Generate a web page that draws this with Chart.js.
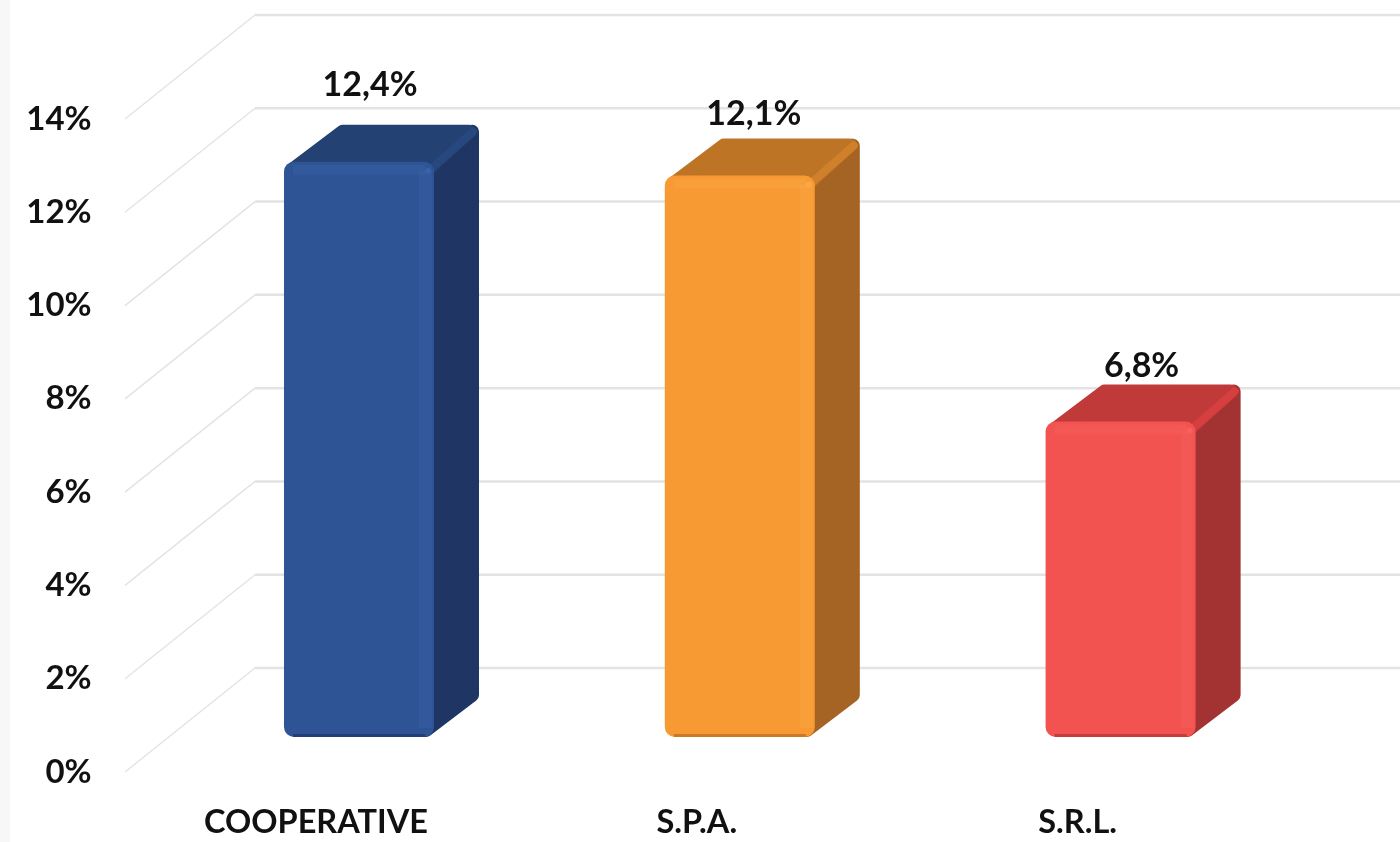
<!DOCTYPE html>
<html>
<head>
<meta charset="utf-8">
<title>Chart</title>
<script src="https://cdn.jsdelivr.net/npm/chart.js@4/dist/chart.umd.js"></script>
<style>
  html, body { margin: 0; padding: 0; background: #fff; }
  body { width: 1400px; height: 842px; overflow: hidden; background: linear-gradient(90deg, #f7f7f7 10px, #fff 10px); }
  canvas { display: block; }
</style>
</head>
<body>
<canvas id="chart" width="1400" height="842"></canvas>
<script>
const categories = ['COOPERATIVE', 'S.P.A.', 'S.R.L.'];
const values = [12.4, 12.1, 6.8];
const axisTicks = [0, 2, 4, 6, 8, 10, 12, 14];

const frontColors = ['#2e5496', '#f79a34', '#f25350'];
const topColors = ['#234172', '#bd7425', '#bf3a39'];
const sideColors = ['#1f3564', '#a56424', '#a33332'];
const rimColors = ['#27477f', '#d0802a', '#d63e40'];
const edgeColors = ['#3a63a8', '#fdaa45', '#f7625f'];
const lowColors = ['#1f3f78', '#c97a22', '#c53c3a'];

const textColor = '#111';
const fontName = 'Lato, Carlito, sans-serif';

// depth of the fake 3d room and of the bars
const wallX = 130, wallY = -104;
const depthX = 45, depthY = -37;
// where each value label sits, measured from the top of its bar
const labelShiftX = [11, 14, 21];
const labelShiftY = [-77, -62, -55];

const room3d = {
    id: 'room3d',
    beforeDatasetsDraw(chart) {
        const c = chart.ctx;
        const y = chart.scales.y;
        c.save();
        y.ticks.forEach(t => {
            const py = y.getPixelForValue(t.value);
            c.strokeStyle = '#e3e3e3';
            c.lineWidth = 1.5;
            c.beginPath();
            c.moveTo(125, py);
            c.lineTo(125 + wallX, py + wallY);
            c.stroke();
            c.lineWidth = 2.5;
            c.beginPath();
            c.moveTo(125 + wallX, py + wallY);
            c.lineTo(1400, py + wallY);
            c.stroke();
        });
        c.restore();

        // top and side of each bar, behind the front face
        chart.getDatasetMeta(0).data.forEach((bar, i) => {
            const l = bar.x - bar.width / 2, r = bar.x + bar.width / 2;
            const t = bar.y, b = bar.base;
            c.save();
            c.lineJoin = 'round';
            c.lineWidth = 14;

            c.fillStyle = c.strokeStyle = sideColors[i];
            c.beginPath();
            c.moveTo(r - 8, t + 8);
            c.lineTo(r + depthX - 7, t + depthY + 7);
            c.lineTo(r + depthX - 7, b + depthY - 5);
            c.lineTo(r - 8, b - 7);
            c.closePath();
            c.fill();
            c.stroke();

            c.fillStyle = c.strokeStyle = topColors[i];
            c.beginPath();
            c.moveTo(l + 10, t + 7);
            c.lineTo(l + depthX + 14, t + depthY + 7);
            c.lineTo(r + depthX - 10, t + depthY + 7);
            c.lineTo(r - 6, t + 7);
            c.closePath();
            c.fill();
            c.stroke();

            c.strokeStyle = rimColors[i];
            c.lineWidth = 8;
            c.lineCap = 'round';
            c.beginPath();
            c.moveTo(r - 2, t + 6);
            c.lineTo(r + depthX - 6, t + depthY + 7);
            c.stroke();
            c.restore();
        });
    },
    afterDatasetsDraw(chart) {
        const c = chart.ctx;
        chart.getDatasetMeta(0).data.forEach((bar, i) => {
            const l = bar.x - bar.width / 2, r = bar.x + bar.width / 2;
            const t = bar.y, b = bar.base;

            // soft bevel on the front face
            c.save();
            c.fillStyle = edgeColors[i];
            c.globalAlpha = 0.35;
            c.fillRect(l + 9, t + 3, bar.width - 18, 10);
            c.fillRect(r - 15, t + 9, 13, b - t - 18);
            c.globalAlpha = 0.9;
            c.beginPath();
            c.arc(r - 6, t + 9, 3, 0, Math.PI * 2);
            c.fill();
            c.globalAlpha = 1;
            c.strokeStyle = lowColors[i];
            c.lineWidth = 3;
            c.beginPath();
            c.moveTo(l + 9, b - 1.5);
            c.lineTo(r - 9, b - 1.5);
            c.stroke();
            c.restore();

            c.save();
            c.fillStyle = textColor;
            c.font = 'bold 34px ' + fontName;
            c.textAlign = 'center';
            c.textBaseline = 'middle';
            const txt = values[i].toFixed(1).replace('.', ',') + '%';
            c.fillText(txt, bar.x + labelShiftX[i], t + labelShiftY[i]);
            c.restore();
        });
    }
};

new Chart(document.querySelector('#chart').getContext('2d'), {
    type: 'bar',
    data: {
        labels: categories,
        datasets: [{
            data: values,
            yAxisID: 'yBars',
            backgroundColor: frontColors,
            borderRadius: 10,
            borderSkipped: false,
            categoryPercentage: 1,
            barPercentage: 0.394
        }]
    },
    options: {
        responsive: false,
        animation: false,
        layout: { padding: { left: 0, right: 89, top: 119, bottom: 0 } },
        plugins: { legend: { display: false }, tooltip: { enabled: false } },
        scales: {
            x: {
                grid: { display: false, drawTicks: false },
                border: { display: false },
                afterFit(s) { s.height = 70; },
                ticks: {
                    color: textColor,
                    font: { family: fontName, size: 32.5, weight: 'bold' },
                    padding: 31,
                    labelOffset: -43,
                    maxRotation: 0
                }
            },
            // axis the labels are read from, front edge of the floor
            y: {
                min: 0,
                max: 14,
                afterBuildTicks(s) { s.ticks = axisTicks.map(v => ({ value: v })); },
                // tick padding also counts vertically, so drop it there
                afterFit(s) { s.width = 168.6; s.paddingTop = 0; s.paddingBottom = 0; },
                grid: { display: false, drawTicks: false },
                border: { display: false },
                ticks: {
                    color: textColor,
                    font: { family: fontName, size: 33, weight: 'bold' },
                    padding: 77,
                    callback: v => v + '%'
                }
            },
            // bars stand further back in the room so their zero is higher up
            yBars: { display: false, min: -0.754, max: 13.32 }
        }
    },
    plugins: [room3d]
});
</script>
</body>
</html>
